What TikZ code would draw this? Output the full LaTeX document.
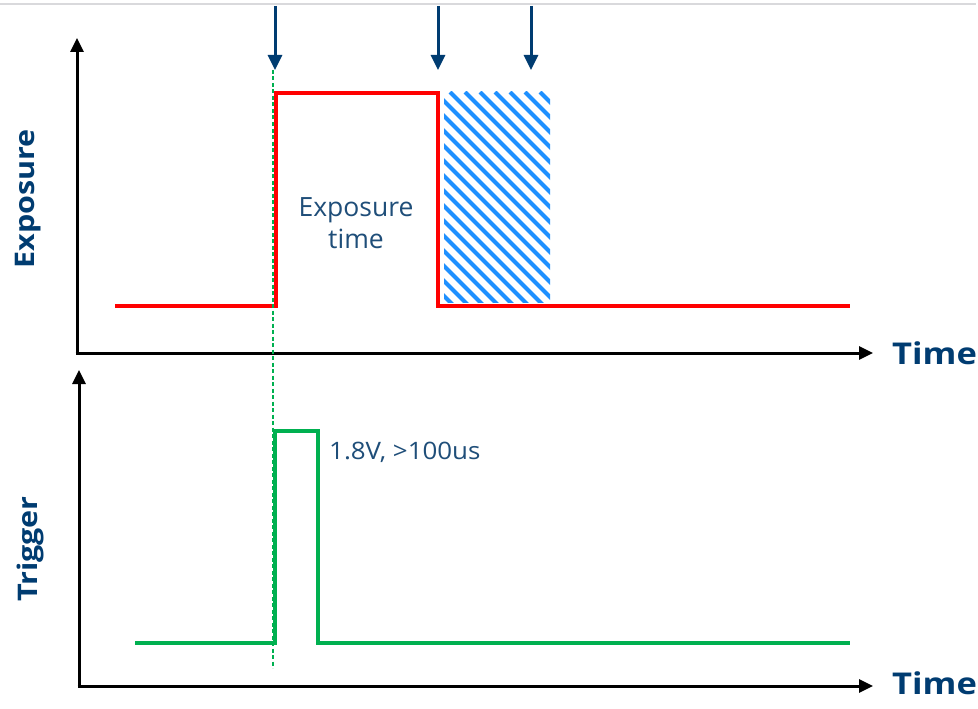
\documentclass[tikz,border=0pt]{standalone}
\usepackage{fontspec}
\setmainfont{Open Sans}
\usetikzlibrary{arrows.meta}
\definecolor{navy}{RGB}{0,60,113}
\definecolor{txtblue}{RGB}{31,78,121}
\definecolor{sigred}{RGB}{255,0,0}
\definecolor{siggreen}{RGB}{0,176,80}
\definecolor{hatchblue}{RGB}{30,144,255}
\definecolor{topgray}{RGB}{217,217,220}
\tikzset{
  axis/.style={line width=3pt, draw=black, -{Triangle[length=14pt,width=13pt]}},
  marker/.style={line width=3pt, draw=navy, -{Triangle[length=15pt,width=14pt]}},
  sigline/.style={line width=4pt, line join=miter},
  axlabel/.style={font=\bfseries\fontsize{27}{30}\selectfont, text=navy, inner sep=0pt},
  timelabel/.style={font=\bfseries\fontsize{30}{34}\selectfont, text=navy, inner sep=0pt, anchor=west},
  inlabel/.style={font=\fontsize{26.5}{32}\selectfont, text=txtblue, inner sep=0pt, align=center},
}
\begin{document}
\begin{tikzpicture}[x=1pt,y=-1pt]
\useasboundingbox (0,0) rectangle (978,709);
\fill[white] (0,0) rectangle (978,709);
% top gray rule
\draw[topgray, line width=2.5pt] (0,4) -- (976,4);

% axes
\coordinate (uo) at (77,353);
\coordinate (uy) at (77,38);
\coordinate (ux) at (873,353);
\coordinate (lo) at (79,686);
\coordinate (ly) at (79,370);
\coordinate (lx) at (873,686);
\draw[axis] ([yshift=1.5pt]uo) -- (uy);
\draw[axis] ([xshift=-1.5pt]uo) -- (ux);
\draw[axis] ([yshift=1.5pt]lo) -- (ly);
\draw[axis] ([xshift=-1.5pt]lo) -- (lx);

\node[timelabel] (t1) at (892,353) {\scalebox{1.15}[1]{Time}};
\node[timelabel] (t2) at (892,683) {\scalebox{1.15}[1]{Time}};
\node[axlabel, rotate=90] (ylab1) at (28,199) {\scalebox{1.13}[1]{Exposure}};
\node[axlabel, rotate=90] (ylab2) at (30,549) {\scalebox{1.13}[1]{Trigger}};

% hatched region
\begin{scope}
  \clip (444,92) rectangle (550,302);
  \foreach \k in {-240,-225,...,560}
    \draw[hatchblue, line width=4.2pt] (\k,92) -- (\k+230,322);
\end{scope}

% exposure signal
\draw[sigline, sigred] (115,306) -- (276,306) -- (276,93) -- (438,93) -- (438,306) -- (850,306);

% trigger signal
\draw[sigline, siggreen] (135,643) -- (275,643) -- (275,431) -- (318,431) -- (318,643) -- (850,643);

% green dashed guide
\draw[siggreen, line width=1.4pt, dash pattern=on 4pt off 2.5pt] (273,70) -- (273,668);

% marker arrows
\coordinate (a1s) at (275,6); \coordinate (a1e) at (275,70);
\coordinate (a2s) at (438,6); \coordinate (a2e) at (438,70);
\coordinate (a3s) at (531,6); \coordinate (a3e) at (531,70);
\draw[marker] (a1s) -- (a1e);
\draw[marker] (a2s) -- (a2e);
\draw[marker] (a3s) -- (a3e);

\node[inlabel] (et) at (356,223) {Exposure\\time};
\node[inlabel, anchor=west, font=\fontsize{24}{26}\selectfont] (tv) at (329,452) {\scalebox{1.08}[1]{1.8V, >100us}};
\end{tikzpicture}
\end{document}
